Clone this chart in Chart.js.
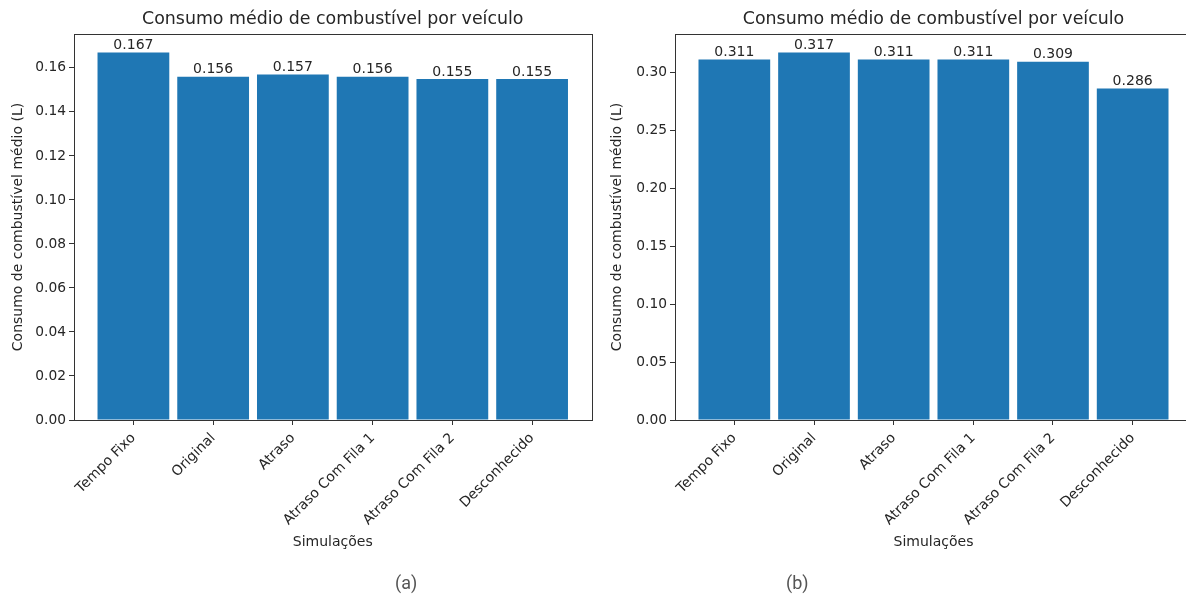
<!DOCTYPE html>
<html>
<head>
<meta charset="utf-8">
<script src="https://cdn.jsdelivr.net/npm/chart.js@4.4.0/dist/chart.umd.min.js"></script>
<style>
    html, body { margin: 0; padding: 0; background: #fff; overflow: hidden; width: 1186px; height: 602px; }
    .panel { position: absolute; top: 0; width: 600px; height: 602px; }
    .panel canvas { display: block; }
    .caption { position: absolute; top: 572px; font-family: Roboto, 'Noto Sans', sans-serif; font-size: 18px; color: #555; }
</style>
</head>
<body>
<div class="panel" style="left:0px"><canvas id="chartA" width="600" height="602"></canvas></div>
<div class="panel" style="left:601px"><canvas id="chartB" width="600" height="602"></canvas></div>
<div class="caption" style="left:395px">(a)</div>
<div class="caption" style="left:786px">(b)</div>
<script>
// --- Data ---
const categories = ['Tempo Fixo', 'Original', 'Atraso', 'Atraso Com Fila 1', 'Atraso Com Fila 2', 'Desconhecido'];
const valuesA = [0.167, 0.156, 0.157, 0.156, 0.155, 0.155];
const valuesB = [0.311, 0.317, 0.311, 0.311, 0.309, 0.286];
const yTicksA = [0.00, 0.02, 0.04, 0.06, 0.08, 0.10, 0.12, 0.14, 0.16];
const yTicksB = [0.00, 0.05, 0.10, 0.15, 0.20, 0.25, 0.30];

const chartTitle = 'Consumo médio de combustível por veículo';
const yTitle = 'Consumo de combustível médio (L)';
const xTitle = 'Simulações';

const BAR_COLOR = '#1f77b4';
const TEXT_COLOR = '#262626';
const FONT = "'DejaVu Sans', sans-serif";

// draws the top/right spines of the axes box and the title over the axes
const frameBox = {
    id: 'frameBox',
    afterDraw(chart) {
        const { ctx, chartArea: a } = chart;
        ctx.save();
        ctx.strokeStyle = '#333';
        ctx.lineWidth = 1;
        ctx.strokeRect(Math.round(a.left) + 0.5, Math.round(a.top) + 0.5, Math.round(a.right - a.left), Math.round(a.bottom - a.top));
        ctx.font = `17.4px ${FONT}`;
        ctx.fillStyle = TEXT_COLOR;
        ctx.textAlign = 'center';
        ctx.textBaseline = 'middle';
        ctx.fillText(chartTitle, (a.left + a.right) / 2, 19);
        ctx.restore();
    }
};

// value text on top of each bar
const barValues = {
    id: 'barValues',
    afterDatasetsDraw(chart) {
        const { ctx } = chart;
        const meta = chart.getDatasetMeta(0);
        ctx.save();
        ctx.font = `14px ${FONT}`;
        ctx.fillStyle = TEXT_COLOR;
        ctx.textAlign = 'center';
        ctx.textBaseline = 'bottom';
        meta.data.forEach((bar, i) => {
            ctx.fillText(chart.data.datasets[0].data[i].y.toFixed(3), bar.x, bar.y);
        });
        ctx.restore();
    }
};

/**
 * Builds one matplotlib-like bar panel
 */
function makeChart(canvasId, values, yTicks, yMax, padRight, yTitlePad) {
    const ctx = document.getElementById(canvasId).getContext('2d');
    return new Chart(ctx, {
        type: 'bar',
        data: {
            datasets: [{
                data: values.map((v, i) => ({ x: i, y: v })),
                backgroundColor: BAR_COLOR,
                borderWidth: 0,
                barPercentage: 0.9,
                categoryPercentage: 1.0
            }]
        },
        plugins: [frameBox, barValues],
        options: {
            responsive: false,
            animation: false,
            devicePixelRatio: 1,
            layout: { padding: { left: 0, right: padRight, top: 34, bottom: 0 } },
            plugins: {
                legend: { display: false },
                tooltip: { enabled: false },
                title: { display: false }
            },
            scales: {
                x: {
                    type: 'linear',
                    min: -0.745,
                    max: 5.745,
                    offset: false,
                    afterBuildTicks: (scale) => {
                        scale.ticks = categories.map((_, i) => ({ value: i }));
                    },
                    afterFit: (scale) => { scale.height = 182; },
                    border: { display: true, color: '#333' },
                    grid: { display: true, drawOnChartArea: false, drawTicks: true, tickLength: 5, color: '#333', offset: false },
                    ticks: {
                        color: TEXT_COLOR,
                        font: { family: FONT, size: 14 },
                        minRotation: 45,
                        maxRotation: 45,
                        padding: 5,
                        autoSkip: false,
                        callback: (v) => categories[v]
                    },
                    title: {
                        display: true,
                        text: xTitle,
                        color: TEXT_COLOR,
                        font: { family: FONT, size: 14 },
                        padding: { top: 0, bottom: 51 }
                    }
                },
                y: {
                    min: 0,
                    max: yMax,
                    afterBuildTicks: (scale) => {
                        scale.ticks = yTicks.map(v => ({ value: v }));
                    },
                    afterFit: (scale) => { scale.width = 74; },
                    border: { display: true, color: '#333' },
                    grid: { display: true, drawOnChartArea: false, drawTicks: true, tickLength: 5, color: '#333' },
                    ticks: {
                        color: TEXT_COLOR,
                        font: { family: FONT, size: 13.8 },
                        padding: 3,
                        callback: (v) => v.toFixed(2)
                    },
                    title: {
                        display: true,
                        text: yTitle,
                        color: TEXT_COLOR,
                        font: { family: FONT, size: 14 },
                        padding: { top: yTitlePad, bottom: 0 }
                    }
                }
            }
        }
    });
}

makeChart('chartA', valuesA, yTicksA, 0.1754, 8.5, 10);
makeChart('chartB', valuesB, yTicksB, 0.3329, 9, 8);
</script>
</body>
</html>
